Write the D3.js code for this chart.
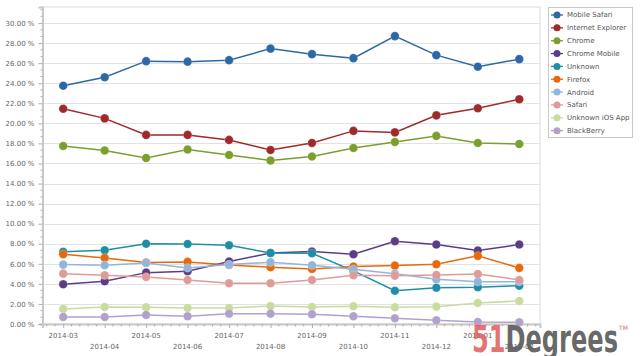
<!DOCTYPE html>
<html><head><meta charset="utf-8">
<script src="https://cdn.jsdelivr.net/npm/d3@7"></script>
<style>body{margin:0;background:#fff}svg{display:block}text{font-family:"DejaVu Sans",Verdana,sans-serif}</style>
</head><body><svg id="c" width="640" height="356"></svg>
<script>
const months = ["2014-03","2014-04","2014-05","2014-06","2014-07","2014-08","2014-09","2014-10","2014-11","2014-12","2015-01","2015-02"];
const seriesNames = ["Mobile Safari","Internet Explorer","Chrome","Chrome Mobile","Unknown","Firefox","Android","Safari","Unknown iOS App","BlackBerry"];
const mobileSafari = [23.75,24.6,26.2,26.15,26.3,27.45,26.9,26.5,28.7,26.8,25.65,26.4];
const internetExplorer = [21.45,20.5,18.85,18.85,18.35,17.35,18.05,19.25,19.1,20.8,21.5,22.4];
const chrome = [17.75,17.3,16.55,17.4,16.85,16.3,16.7,17.55,18.15,18.75,18.05,17.95];
const chromeMobile = [3.96,4.26,5.12,5.26,6.22,7.08,7.22,6.95,8.25,7.92,7.32,7.92];
const unknown = [7.2,7.35,8.0,7.98,7.85,7.08,7.05,5.3,3.32,3.62,3.66,3.82];
const firefox = [6.95,6.59,6.12,6.19,5.89,5.66,5.49,5.72,5.82,5.96,6.79,5.59];
const android = [5.92,5.86,6.09,5.59,5.92,6.16,5.86,5.46,5.0,4.46,4.22,4.22];
const safari = [5.02,4.86,4.69,4.39,4.06,4.06,4.39,4.86,4.82,4.89,4.99,4.39];
const unknownIOSApp = [1.5,1.7,1.67,1.6,1.6,1.8,1.7,1.77,1.67,1.73,2.1,2.3];
const blackBerry = [0.7,0.7,0.9,0.77,1.03,1.03,0.97,0.77,0.57,0.37,0.2,0.17];
const yTicks = [0,2,4,6,8,10,12,14,16,18,20,22,24,26,28,30];
const colors = ["#2d68a6","#a0292b","#7b9f2d","#5a3d85","#1e8ea6","#e66a0c","#92b5dc","#df9b98","#c9dc9e","#b1a2cc"];

const allValues = [mobileSafari,internetExplorer,chrome,chromeMobile,unknown,firefox,android,safari,unknownIOSApp,blackBerry];
const series = seriesNames.map((n,i)=>({name:n,values:allValues[i],color:colors[i]}));

const svg = d3.select("#c");
const L=42.5, R=540, T=7, B=324;
const x = d3.scalePoint().domain(months).range([L,R]).padding(0.5);
const y = d3.scaleLinear().domain([0,31.6]).range([B,T]);

// plot border
svg.append("rect").attr("x",L).attr("y",T).attr("width",R-L).attr("height",B-T)
  .attr("fill","#fff").attr("stroke","#dcdcdc").attr("stroke-width",1);
// grid
svg.append("g").selectAll("line").data(yTicks.filter(d=>d>0)).join("line")
  .attr("x1",L).attr("x2",R).attr("y1",d=>Math.round(y(d))+0.5).attr("y2",d=>Math.round(y(d))+0.5)
  .attr("stroke","#e2e2e2").attr("stroke-width",1);

// y axis
const yAxis = d3.axisLeft(y).tickValues(yTicks).tickFormat(d=>d3.format(".2f")(d)+" %").tickSize(4).tickPadding(4);
const gy = svg.append("g").attr("transform",`translate(${L},0)`).call(yAxis);
gy.select(".domain").attr("stroke","#c8c8c8").attr("stroke-width",2);
gy.selectAll(".tick line").attr("stroke","#b0b0b0");
gy.selectAll("text").attr("font-size",7).attr("fill","#666");
// y minor ticks
const yMinor = d3.range(0,31.6,2/3).filter(v=>Math.abs(v/2-Math.round(v/2))>0.05);
svg.append("g").selectAll("line").data(yMinor).join("line")
  .attr("x1",L-2).attr("x2",L).attr("y1",d=>y(d)).attr("y2",d=>y(d)).attr("stroke","#b0b0b0");

// x axis
const xAxis = d3.axisBottom(x).tickSize(4).tickFormat("");
const gx = svg.append("g").attr("transform",`translate(0,${B})`).call(xAxis);
gx.select(".domain").attr("stroke","#c8c8c8").attr("stroke-width",2);
gx.selectAll(".tick line").attr("stroke","#b0b0b0");
const step = x.step();
const xMinor = [];
months.forEach((m,i)=>{for(let k=-2;k<=2;k++){ if(k!==0) xMinor.push(x(m)+k*step/5);} });
svg.append("g").selectAll("line").data(xMinor.filter(v=>v>L&&v<R)).join("line")
  .attr("x1",d=>d).attr("x2",d=>d).attr("y1",B).attr("y2",B+2.5).attr("stroke","#b0b0b0");
svg.append("g").selectAll("text").data(months).join("text")
  .attr("x",d=>x(d)).attr("y",(d,i)=>i%2===0?338:349).attr("text-anchor","middle")
  .attr("font-size",7).attr("fill","#666").text(d=>d);

// series
const line = d3.line().x((d,i)=>x(months[i])).y(d=>y(d));
series.forEach(s=>{
  const g = svg.append("g");
  g.append("path").attr("d",line(s.values)).attr("fill","none").attr("stroke",s.color).attr("stroke-width",1.5);
  g.selectAll("circle").data(s.values).join("circle")
    .attr("cx",(d,i)=>x(months[i])).attr("cy",d=>y(d)).attr("r",4.3)
    .attr("fill",s.color).attr("stroke","#fff").attr("stroke-opacity",0.35).attr("stroke-width",0.6);
});

// legend
const lg = svg.append("g");
lg.append("rect").attr("x",548.5).attr("y",7.5).attr("width",84).attr("height",130)
  .attr("fill","#fff").attr("stroke","#c8c8c8");
series.forEach((s,i)=>{
  const yy = 15 + i*12.85;
  lg.append("line").attr("x1",551).attr("x2",563).attr("y1",yy).attr("y2",yy).attr("stroke",s.color).attr("stroke-width",1.3);
  lg.append("circle").attr("cx",557).attr("cy",yy).attr("r",3.5).attr("fill",s.color);
  lg.append("text").attr("x",567).attr("y",yy).attr("dy","0.35em").attr("font-size",7).attr("fill","#555").text(s.name);
});

// logo
const logo = svg.append("text").attr("x",472).attr("y",352)
  .attr("font-family","'Open Sans', Lato, sans-serif").attr("font-weight",600).attr("font-size",37)
  .attr("textLength",146).attr("lengthAdjust","spacingAndGlyphs");
logo.append("tspan").attr("fill","#e05a58").attr("fill-opacity",0.85).text("51");
logo.append("tspan").attr("fill","#5a5a5a").attr("fill-opacity",0.92).text("Degrees");
svg.append("text").attr("x",619).attr("y",330).attr("font-size",6).attr("fill","#e06a68").text("TM");
</script></body></html>
